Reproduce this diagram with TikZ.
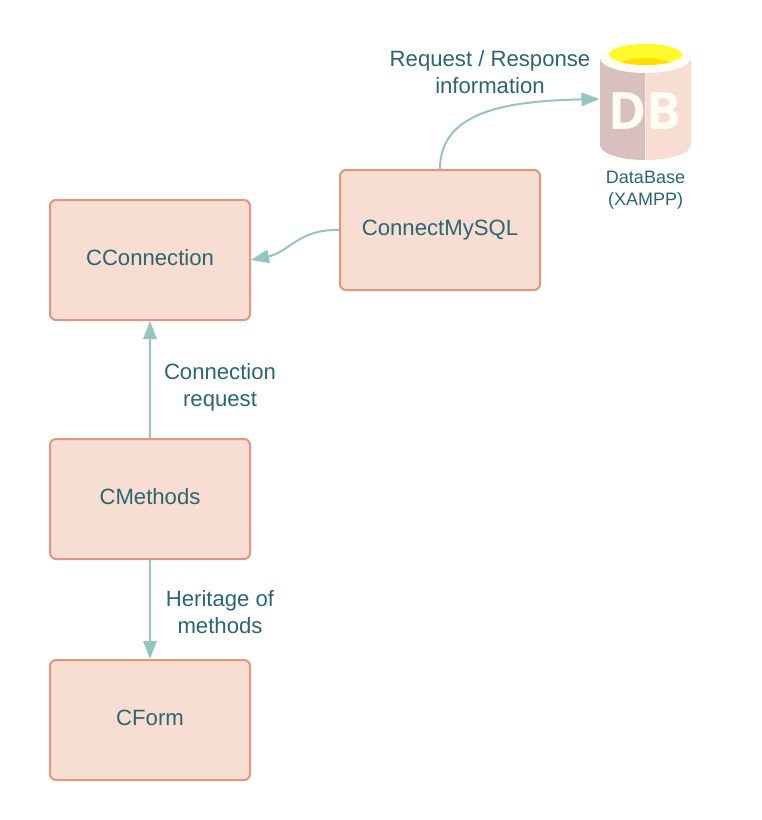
\documentclass[tikz,border=0pt]{standalone}
\usepackage{fontspec}
\setmainfont{Liberation Sans}
\newfontfamily\dbfont{Open Sans}
\usetikzlibrary{arrows.meta}
\definecolor{boxfill}{HTML}{F8DDD2}
\definecolor{boxline}{HTML}{E0977E}
\definecolor{txt}{HTML}{2A6672}
\definecolor{conn}{HTML}{94C6BF}
\definecolor{dbdark}{HTML}{D9C0BE}
\definecolor{dbcream}{HTML}{FFFCF3}
\definecolor{yel}{HTML}{FFFA2B}
\definecolor{yeldark}{HTML}{FFDD00}
\tikzset{
  x=0.75pt,y=-0.75pt,
  classbox/.style={draw=boxline,fill=boxfill,line width=1.5pt,rounded corners=4.5pt,minimum width=150pt,minimum height=90pt,inner sep=0pt,text=txt,font=\fontsize{16.6}{20}\selectfont,text height=12pt,text depth=3.6pt},
  lab/.style={text=txt,font=\fontsize{16.6}{20}\selectfont,align=center,inner sep=0pt},
  smalllab/.style={text=txt,font=\fontsize{13.5}{16.5}\selectfont,align=center,inner sep=0pt},
  conn/.style={draw=conn,line width=1.5pt,-{Triangle[length=13.5pt,width=10pt]}}
}
\begin{document}
\begin{tikzpicture}
\useasboundingbox (0,0) rectangle (761,820);
\fill[white] (0,0) rectangle (761,820);
% database
\fill[boxfill] (600,58) -- (691,58) -- (691,145) arc[x radius=45.5,y radius=15,start angle=0,end angle=90] -- (645.5,58) -- cycle;
\fill[dbdark] (600,58) -- (645,58) -- (645,160) arc[x radius=45,y radius=15,start angle=90,end angle=180] -- cycle;
\fill[dbcream] (645.5,58) ellipse[x radius=45.5,y radius=15];
\fill[yel] (645.5,54.5) ellipse[x radius=36.5,y radius=10.5];
\begin{scope}
\clip (645.5,54.5) ellipse[x radius=36.5,y radius=10.5];
\fill[yeldark] (645.5,67) ellipse[x radius=28,y radius=9];
\end{scope}
\node[text=dbcream,font=\dbfont\bfseries\fontsize{38.7}{39}\selectfont,inner sep=0pt] (dbtext) at (645,111.5) {DB};
\node[smalllab] (dblabel) at (645.5,190) {DataBase\\(XAMPP)};
\coordinate (dbin) at (599.5,99);
% boxes
\node[classbox] (conn) at (150,260) {CConnection};
\node[classbox] (mysql) at (440,230) {ConnectMySQL};
\node[classbox] (meth) at (150,499) {CMethods};
\node[classbox] (form) at (150,720) {CForm};
% connectors
\draw[conn] (mysql.north) .. controls (440,110) and (510,101) .. (dbin);
\draw[conn] (mysql.west) .. controls (298,229) and (290,252) .. (conn.east);
\draw[conn] (meth.north) -- (conn.south);
\draw[conn] (meth.south) -- (form.north);
% labels
\node[lab] (l1) at (490,72) {Request / Response\\information};
\node[lab] (l2) at (220,387.5) {Connection\\request};
\node[lab] (l3) at (220,612) {Heritage of\\methods};
\end{tikzpicture}
\end{document}
